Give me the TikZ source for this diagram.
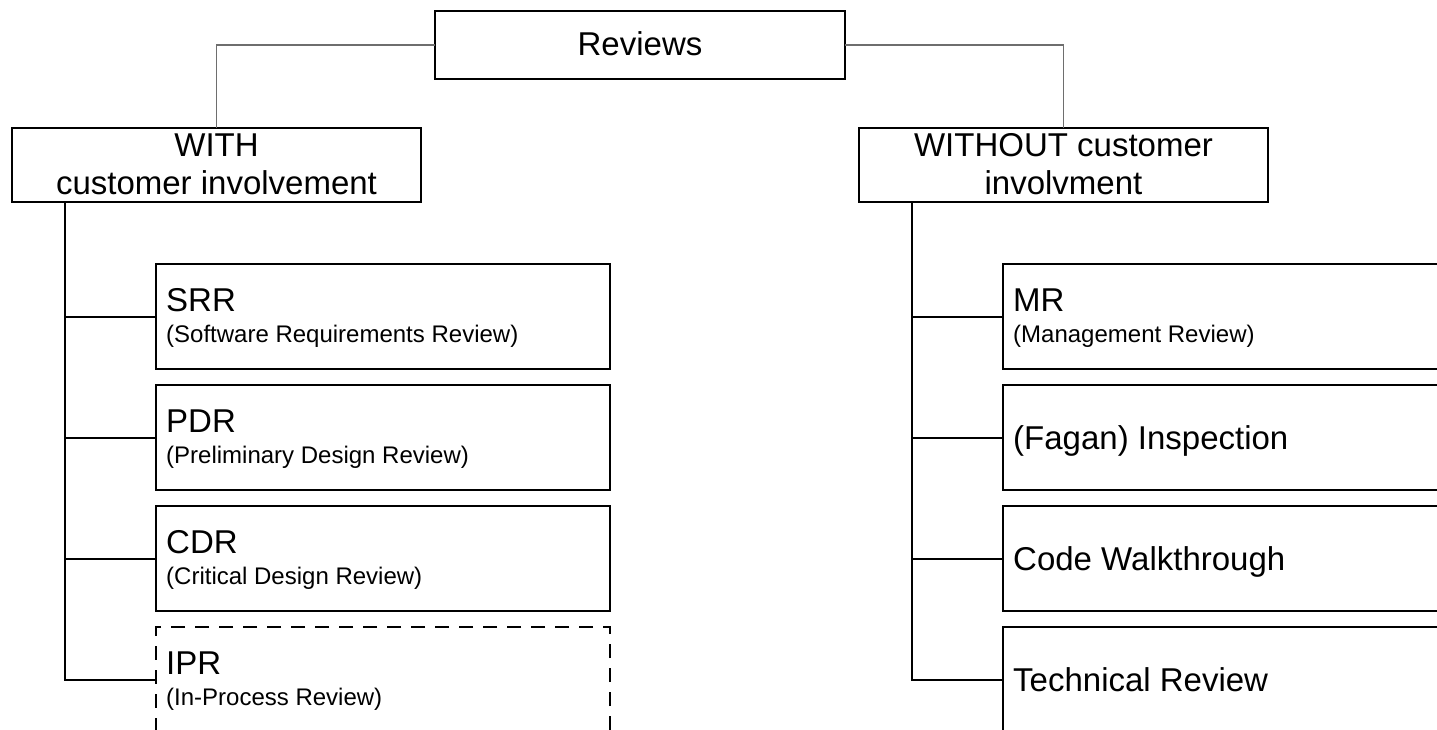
\documentclass[tikz,border=0pt]{standalone}
\usepackage{fontspec}
\setmainfont{Liberation Sans}
\usetikzlibrary{calc}
\definecolor{linkgray}{RGB}{110,110,110}
\begin{document}
\begin{tikzpicture}[x=1pt,y=-1pt,
  box/.style={draw=black, line width=2pt, rectangle, inner sep=0pt, outer sep=0pt, anchor=north west},
  dashbox/.style={box, dash pattern=on 14pt off 10pt},
  leftkid/.style={box, minimum width=454pt, minimum height=105pt},
  rightkid/.style={box, minimum width=480pt, minimum height=105pt},
  bigtxt/.style={font=\fontsize{33}{38}\selectfont, inner sep=0pt, anchor=base west},
  smalltxt/.style={font=\fontsize{24}{28}\selectfont, inner sep=0pt, anchor=base west},
  link/.style={draw=linkgray, line width=1.3pt},
  branch/.style={draw=black, line width=2pt},
]
\useasboundingbox (0,0) rectangle (1437,729);
\clip (0,0) rectangle (1437,729);

% root and the two groups
\node[box, minimum width=410pt, minimum height=68pt] (rev) at (435,11) {};
\node[bigtxt, anchor=base] (revT) at ($(rev.north)+(0,44)$) {Reviews};

\node[box, minimum width=409pt, minimum height=74pt] (with) at (12,128) {};
\node[bigtxt, anchor=base] (withT1) at ($(with.north)+(0,28)$) {WITH};
\node[bigtxt, anchor=base] (withT2) at ($(with.north)+(0,66)$) {customer involvement};

\node[box, minimum width=409pt, minimum height=74pt] (without) at (859,128) {};
\node[bigtxt, anchor=base] (withoutT1) at ($(without.north)+(0,28)$) {WITHOUT customer};
\node[bigtxt, anchor=base] (withoutT2) at ($(without.north)+(0,66)$) {involvment};

% reviews with customer involvement
\node[leftkid] (srr) at (156,264) {};
\node[bigtxt] (srrT) at ($(srr.north west)+(10,47)$) {SRR};
\node[smalltxt] (srrS) at ($(srr.north west)+(10,78)$) {(Software Requirements Review)};

\node[leftkid] (pdr) at (156,385) {};
\node[bigtxt] (pdrT) at ($(pdr.north west)+(10,47)$) {PDR};
\node[smalltxt] (pdrS) at ($(pdr.north west)+(10,78)$) {(Preliminary Design Review)};

\node[leftkid] (cdr) at (156,506) {};
\node[bigtxt] (cdrT) at ($(cdr.north west)+(10,47)$) {CDR};
\node[smalltxt] (cdrS) at ($(cdr.north west)+(10,78)$) {(Critical Design Review)};

\node[leftkid, dashbox] (ipr) at (156,627) {};
\node[bigtxt] (iprT) at ($(ipr.north west)+(10,47)$) {IPR};
\node[smalltxt] (iprS) at ($(ipr.north west)+(10,78)$) {(In-Process Review)};

% reviews without customer involvement
\node[rightkid] (mr) at (1003,264) {};
\node[bigtxt] (mrT) at ($(mr.north west)+(10,47)$) {MR};
\node[smalltxt] (mrS) at ($(mr.north west)+(10,78)$) {(Management Review)};

\node[rightkid] (fagan) at (1003,385) {};
\node[bigtxt] (faganT) at ($(fagan.west)+(10,12)$) {(Fagan) Inspection};

\node[rightkid] (walk) at (1003,506) {};
\node[bigtxt] (walkT) at ($(walk.west)+(10,12)$) {Code Walkthrough};

\node[rightkid] (tech) at (1003,627) {};
\node[bigtxt] (techT) at ($(tech.west)+(10,12)$) {Technical Review};

% connectors from the root
\draw[link] (rev.west) -| (with.north);
\draw[link] (rev.east) -| (without.north);

% trunks and branches
\coordinate (trunkL) at (65,0);
\coordinate (trunkR) at (912,0);
\draw[branch] (with.south -| trunkL) |- (ipr.west);
\draw[branch] (trunkL |- srr.west) -- (srr.west);
\draw[branch] (trunkL |- pdr.west) -- (pdr.west);
\draw[branch] (trunkL |- cdr.west) -- (cdr.west);

\draw[branch] (without.south -| trunkR) |- (tech.west);
\draw[branch] (trunkR |- mr.west) -- (mr.west);
\draw[branch] (trunkR |- fagan.west) -- (fagan.west);
\draw[branch] (trunkR |- walk.west) -- (walk.west);
\end{tikzpicture}
\end{document}
